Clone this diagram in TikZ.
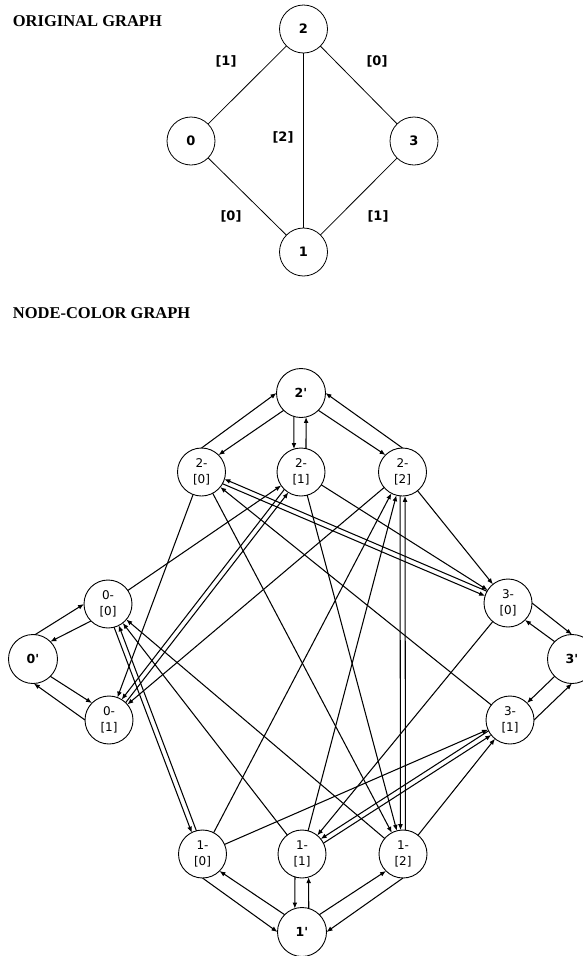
\documentclass[tikz,border=0pt]{standalone}
\usepackage{fontspec}
\newfontfamily\dv{DejaVu Sans}
\newfontfamily\tms{Liberation Serif}
\usetikzlibrary{arrows.meta,calc}
\newcommand\dbl[2]{%
 \draw[arr,shorten <=23.8pt,shorten >=23.8pt] ($(#1)!2.5pt!-90:(#2)$) -- ($(#2)!2.5pt!90:(#1)$);
 \draw[arr,shorten <=23.8pt,shorten >=23.8pt] ($(#2)!2.5pt!-90:(#1)$) -- ($(#1)!2.5pt!90:(#2)$);}
\begin{document}
\begin{tikzpicture}[x=1pt,y=-1pt,
  vtx/.style={draw,circle,minimum size=48pt,inner sep=0pt,outer sep=0pt,line width=0.8pt,font=\dv\bfseries\fontsize{13}{15}\selectfont},
  lbl/.style={font=\dv\bfseries\fontsize{13}{15}\selectfont},
  edge/.style={line width=0.8pt},
  title/.style={font=\tms\bfseries\fontsize{16.5}{18}\selectfont,anchor=base west,inner sep=0pt},
  cnode/.style={draw,circle,minimum size=48pt,inner sep=0pt,outer sep=0pt,line width=0.9pt,align=center,font=\dv\fontsize{12}{15.5}\selectfont},
  pnode/.style={draw,circle,minimum size=49pt,inner sep=0pt,outer sep=0pt,line width=0.9pt,font=\dv\bfseries\fontsize{12.5}{15}\selectfont},
  arr/.style={line width=1.05pt,-{Latex[length=6pt,width=4.8pt]}},
]
\useasboundingbox (0,0) rectangle (583,956);
\clip (0,0) rectangle (583,956);
\fill[white] (0,0) rectangle (583,956);

% titles
\node[title] (tt1) at (12.7,26.7) {ORIGINAL GRAPH};
\node[title] (tt2) at (12.7,318.3) {NODE-COLOR GRAPH};

% original graph
\node[vtx] (t2) at (303.5,29) {2};
\node[vtx] (t0) at (191,141) {0};
\node[vtx] (t3) at (414,141) {3};
\node[vtx] (t1) at (303.5,252) {1};
\draw[edge] (t2) -- (t0);
\draw[edge] (t2) -- (t3);
\draw[edge] (t2) -- (t1);
\draw[edge] (t0) -- (t1);
\draw[edge] (t3) -- (t1);
\node[lbl] (l1) at (226,61) {[1]};
\node[lbl] (l2) at (377,61) {[0]};
\node[lbl] (l3) at (283,137) {[2]};
\node[lbl] (l4) at (231,216) {[0]};
\node[lbl] (l5) at (378,216) {[1]};

% node-color graph
\node[pnode] (n2p) at (301,393) {2'};
\node[cnode] (n20) at (201.5,472) {2-\\{}[0]};
\node[cnode] (n21) at (301,472) {2-\\{}[1]};
\node[cnode] (n22) at (402.5,472) {2-\\{}[2]};
\node[cnode] (n00) at (108,604) {0-\\{}[0]};
\node[pnode] (n0p) at (33,659) {0'};
\node[cnode] (n01) at (109,720) {0-\\{}[1]};
\node[cnode] (n30) at (508,603) {3-\\{}[0]};
\node[pnode] (n3p) at (572,659) {3'};
\node[cnode] (n31) at (510,720) {3-\\{}[1]};
\node[cnode] (n10) at (202.5,854) {1-\\{}[0]};
\node[cnode] (n11) at (302,854) {1-\\{}[1]};
\node[cnode] (n12) at (403,854) {1-\\{}[2]};
\node[pnode] (n1p) at (302,932) {1'};

% v' pairs
\draw[arr] (n20.90) -- (n2p.180);
\draw[arr] (n2p.225) -- (n20.45);
\draw[arr] (n2p.253) -- (n21.107);
\draw[arr] (n21.78) -- (n2p.282);
\draw[arr] (n2p.315) -- (n22.135);
\draw[arr] (n22.90) -- (n2p.0);

\draw[arr] (n0p.85) -- (n00.180);
\draw[arr] (n00.225) -- (n0p.45);
\draw[arr] (n0p.315) -- (n01.135);
\draw[arr] (n01.180) -- (n0p.272);

\draw[arr] (n30.0) -- (n3p.90);
\draw[arr] (n3p.135) -- (n30.315);
\draw[arr] (n3p.225) -- (n31.45);
\draw[arr] (n31.0) -- (n3p.270);

\draw[arr] (n10.270) -- (n1p.180);
\draw[arr] (n1p.135) -- (n10.315);
\draw[arr] (n11.253) -- (n1p.107);
\draw[arr] (n1p.74) -- (n11.286);
\draw[arr] (n1p.45) -- (n12.225);
\draw[arr] (n12.270) -- (n1p.0);

% single arrows
\draw[arr] (n00) -- (n21);
\draw[arr] (n20) -- (n01);
\draw[arr] (n22) -- (n01);
\draw[arr] (n20) -- (n12);
\draw[arr] (n21) -- (n12);
\draw[arr] (n10) -- (n22);
\draw[arr] (n11) -- (n22);
\draw[arr] (n11) -- (n00);
\draw[arr] (n12) -- (n00);
\draw[arr] (n10) -- (n31);
\draw[arr] (n12) -- (n31);
\draw[arr] (n30) -- (n11);
\draw[arr] (n21) -- (n30);
\draw[arr] (n22) -- (n30);
\draw[arr] (n31) -- (n20);

% double arrows
\dbl{n20}{n30}
\dbl{n21}{n01}
\dbl{n22}{n12}
\dbl{n00}{n10}
\dbl{n11}{n31}
\end{tikzpicture}
\end{document}
